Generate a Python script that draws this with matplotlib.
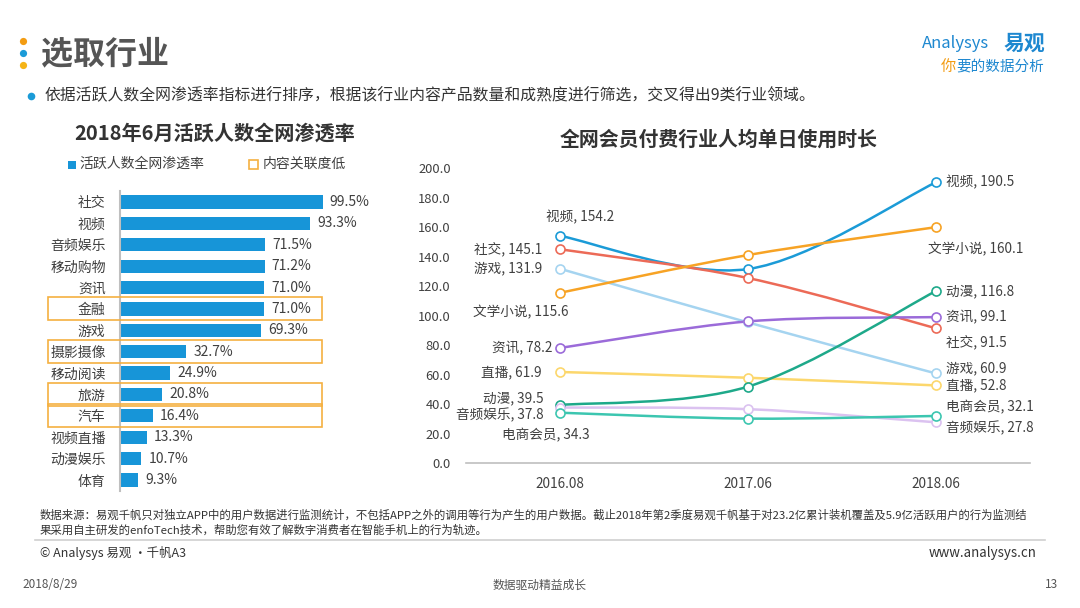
import matplotlib
matplotlib.use("Agg")
import matplotlib.pyplot as plt
from matplotlib.path import Path
from matplotlib.patches import PathPatch, Rectangle
import matplotlib.transforms as mtransforms

plt.rcParams['font.family'] = ['Noto Sans CJK SC', 'DejaVu Sans']

# ---------------- data ----------------
bar_categories = ['社交', '视频', '音频娱乐', '移动购物', '资讯', '金融', '游戏',
                  '摄影摄像', '移动阅读', '旅游', '汽车', '视频直播', '动漫娱乐', '体育']
bar_values = [99.5, 93.3, 71.5, 71.2, 71.0, 71.0, 69.3, 32.7, 24.9, 20.8, 16.4, 13.3, 10.7, 9.3]
low_relevance = ['金融', '摄影摄像', '旅游', '汽车']

periods = ['2016.08', '2017.06', '2018.06']
series_names = ['视频', '社交', '游戏', '文学小说', '资讯', '直播', '动漫', '音频娱乐', '电商会员']
s_video = [154.2, 131.7, 190.5]
s_social = [145.1, 125.6, 91.5]
s_game = [131.9, 95.5, 60.9]
s_novel = [115.6, 141.2, 160.1]
s_news = [78.2, 96.2, 99.1]
s_live = [61.9, 58.0, 52.8]
s_anime = [39.5, 52.0, 116.8]
s_audio = [37.8, 36.7, 27.8]
s_ecom = [34.3, 30.3, 32.1]
series_values = [s_video, s_social, s_game, s_novel, s_news, s_live, s_anime, s_audio, s_ecom]
yticks = [0, 20, 40, 60, 80, 100, 120, 140, 160, 180, 200]

# ---------------- styles ----------------
series_colors = {'视频': '#1b9bd7', '社交': '#ec6a57', '游戏': '#a5d4f0', '文学小说': '#f7a325',
                 '资讯': '#9b6bd9', '直播': '#fcd76c', '动漫': '#1ea98a', '音频娱乐': '#dbc2f0',
                 '电商会员': '#3cc6b0'}
# label offsets (pixels) for first / last point, and alignment
left_lab = {'视频': (20, 18.5, 'center'), '社交': (-18, 0, 'right'), '游戏': (-18, 0, 'right'),
            '文学小说': (-39, -19, 'center'), '资讯': (-8, 0, 'right'), '直播': (-18, 0, 'right'),
            '动漫': (-16, 7, 'right'), '音频娱乐': (-16, -7.5, 'right'), '电商会员': (-14, -22, 'center')}
right_lab = {'视频': (10.5, 0, 'left'), '社交': (10.5, -13.4, 'left'), '游戏': (10.5, 5, 'left'),
             '文学小说': (-7.5, -22, 'left'), '资讯': (10.5, 0, 'left'), '直播': (10.5, 0, 'left'),
             '动漫': (10.5, 0, 'left'), '音频娱乐': (10.5, -5.4, 'left'), '电商会员': (10.5, 8.7, 'left')}

TXT = '#404040'
LFS = 9.8
W, H = 1080, 608
fig = plt.figure(figsize=(W / 100, H / 100), dpi=100)
fig.patch.set_facecolor('white')


def fx(x):
    return x / W


def fy(y):
    return 1 - y / H


def dot(x, y, col, size):
    fig.lines.append(plt.Line2D([fx(x)], [fy(y)], transform=fig.transFigure, linestyle='none',
                                marker='o', markersize=size, markerfacecolor=col,
                                markeredgecolor='none'))


# ---------------- header ----------------
for yy, col in [(41, '#f39c12'), (53, '#1b9bd7'), (65, '#f5b417')]:
    dot(22.5, yy, col, 5.2)
fig.text(fx(41), fy(54), '选取行业', fontsize=23, fontweight='bold', color='#555555',
         ha='left', va='center')
dot(31, 96, '#1b9bd7', 5.5)
fig.text(fx(45), fy(96), '依据活跃人数全网渗透率指标进行排序，根据该行业内容产品数量和成熟度进行筛选，交叉得出9类行业领域。',
         fontsize=11.4, color='#333333', ha='left', va='center')

# logo
fig.text(fx(922), fy(44), 'Analysys', fontsize=12, color='#1e88d0', style='italic',
         ha='left', va='center')
fig.text(fx(1004), fy(43), '易观', fontsize=15, fontweight='bold', color='#1e88d0',
         ha='left', va='center')
fig.text(fx(941), fy(66), '你', fontsize=11, color='#f39c12', ha='left', va='center')
fig.text(fx(956), fy(66), '要的数据分析', fontsize=10.5, color='#1e88d0', ha='left', va='center')

# ---------------- left: bar chart ----------------
ax1 = fig.add_axes([fx(119.5), fy(490.7), 245 / W, (490.7 - 191.3) / H])
ypos = list(range(len(bar_categories)))
ax1.barh(ypos, bar_values, height=0.62, color='#1795d8', zorder=2)
ax1.set_xlim(0, 120)
ax1.set_ylim(len(bar_categories) - 0.5, -0.5)
ax1.set_yticks(ypos)
ax1.set_yticklabels(bar_categories, fontsize=10, color=TXT)
ax1.tick_params(axis='y', length=0, pad=10)
ax1.set_xticks([])
for s in ['top', 'right', 'bottom']:
    ax1.spines[s].set_visible(False)
ax1.spines['left'].set_color('#bfbfbf')
ax1.spines['left'].set_linewidth(1.5)
ax1.patch.set_alpha(0)
for i, v in enumerate(bar_values):
    ax1.annotate(f'{v:.1f}%', xy=(v, i), xytext=(7, 0), textcoords='offset pixels',
                 ha='left', va='center', fontsize=10, color=TXT)
trans_box = mtransforms.blended_transform_factory(ax1.transAxes, ax1.transData)
x0 = (48 - 119.5) / 245
x1 = (321.5 - 119.5) / 245
for cat in low_relevance:
    i = bar_categories.index(cat)
    ax1.add_patch(Rectangle((x0, i - 0.54), x1 - x0, 1.08, transform=trans_box, fill=False,
                            edgecolor='#f5b041', linewidth=1.2, clip_on=False, zorder=3))

fig.text(fx(215), fy(133), '2018年6月活跃人数全网渗透率', fontsize=14.5, fontweight='bold',
         color='#333333', ha='center', va='center')
# legend
fig.patches.append(Rectangle((fx(68), fy(169)), 8 / W, 8 / H, transform=fig.transFigure,
                             facecolor='#1795d8', edgecolor='none'))
fig.text(fx(79), fy(164), '活跃人数全网渗透率', fontsize=10, color=TXT, ha='left', va='center')
fig.patches.append(Rectangle((fx(249), fy(169.5)), 9 / W, 9 / H, transform=fig.transFigure,
                             facecolor='white', edgecolor='#f5b041', linewidth=1.2))
fig.text(fx(263), fy(164), '内容关联度低', fontsize=10, color=TXT, ha='left', va='center')

# ---------------- right: line chart ----------------
ax2 = fig.add_axes([fx(466), fy(463.3), (1030 - 466) / W, (463.3 - 168.3) / H])
ax2.set_xlim(-0.5, 2.5)
ax2.set_ylim(0, 200)
ax2.patch.set_alpha(0)
xs = list(range(len(periods)))


def smooth_path(xv, yv):
    pts = list(zip(xv, yv))
    n = len(pts)
    verts = [pts[0]]
    codes = [Path.MOVETO]
    for i in range(n - 1):
        p0 = pts[i - 1] if i > 0 else pts[i]
        p1 = pts[i]
        p2 = pts[i + 1]
        p3 = pts[i + 2] if i + 2 < n else pts[i + 1]
        c1 = (p1[0] + (p2[0] - p0[0]) / 6, p1[1] + (p2[1] - p0[1]) / 6)
        c2 = (p2[0] - (p3[0] - p1[0]) / 6, p2[1] - (p3[1] - p1[1]) / 6)
        verts += [c1, c2, p2]
        codes += [Path.CURVE4] * 3
    return Path(verts, codes)


for name, vals in zip(series_names, series_values):
    col = series_colors[name]
    ax2.add_patch(PathPatch(smooth_path(xs, vals), facecolor='none', edgecolor=col,
                            linewidth=1.8, zorder=2))
    ax2.plot(xs, vals, linestyle='none', marker='o', markersize=6.5, markerfacecolor='white',
             markeredgecolor=col, markeredgewidth=1.2, zorder=3, clip_on=False)
    dx, dy, ha = left_lab[name]
    ax2.annotate(f'{name}, {vals[0]:.1f}', xy=(xs[0], vals[0]), xytext=(dx, dy),
                 textcoords='offset pixels', ha=ha, va='center', fontsize=LFS, color=TXT)
    dx, dy, ha = right_lab[name]
    ax2.annotate(f'{name}, {vals[-1]:.1f}', xy=(xs[-1], vals[-1]), xytext=(dx, dy),
                 textcoords='offset pixels', ha=ha, va='center', fontsize=LFS, color=TXT)

ax2.set_xticks(xs)
ax2.set_xticklabels(periods, fontsize=9.8, color=TXT)
ax2.set_yticks(yticks)
ax2.set_yticklabels([f'{t:.1f}' for t in yticks], fontsize=9.3, color=TXT)
ax2.tick_params(axis='both', length=0)
ax2.tick_params(axis='y', pad=11)
ax2.tick_params(axis='x', pad=10)
for s in ['top', 'right', 'left']:
    ax2.spines[s].set_visible(False)
ax2.spines['bottom'].set_color('#bfbfbf')
ax2.spines['bottom'].set_linewidth(1.2)

fig.text(fx(719), fy(139), '全网会员付费行业人均单日使用时长', fontsize=14.3, fontweight='bold',
         color='#333333', ha='center', va='center')

# ---------------- footer ----------------
fig.text(fx(40), fy(515), '数据来源：易观千帆只对独立APP中的用户数据进行监测统计，不包括APP之外的调用等行为产生的用户数据。截止2018年第2季度易观千帆基于对23.2亿累计装机覆盖及5.9亿活跃用户的行为监测结',
         fontsize=8.2, color='#333333', ha='left', va='center')
fig.text(fx(40), fy(530), '果采用自主研发的enfoTech技术，帮助您有效了解数字消费者在智能手机上的行为轨迹。',
         fontsize=8.2, color='#333333', ha='left', va='center')
fig.lines.append(plt.Line2D([fx(35), fx(1045)], [fy(540), fy(540)], transform=fig.transFigure,
                            color='#d0d0d0', linewidth=1.2))
fig.text(fx(40), fy(553), '© Analysys 易观 ·千帆A3', fontsize=9, color='#333333',
         ha='left', va='center')
fig.text(fx(1037), fy(553), 'www.analysys.cn', fontsize=9.6, color='#333333', ha='right', va='center')
fig.text(fx(22), fy(585), '2018/8/29', fontsize=8.5, color='#555555', ha='left', va='center')
fig.text(fx(540), fy(585), '数据驱动精益成长', fontsize=8.5, color='#555555', ha='center', va='center')
fig.text(fx(1058), fy(585), '13', fontsize=8.5, color='#555555', ha='right', va='center')

fig.savefig('out.png', dpi=100, facecolor='white')
